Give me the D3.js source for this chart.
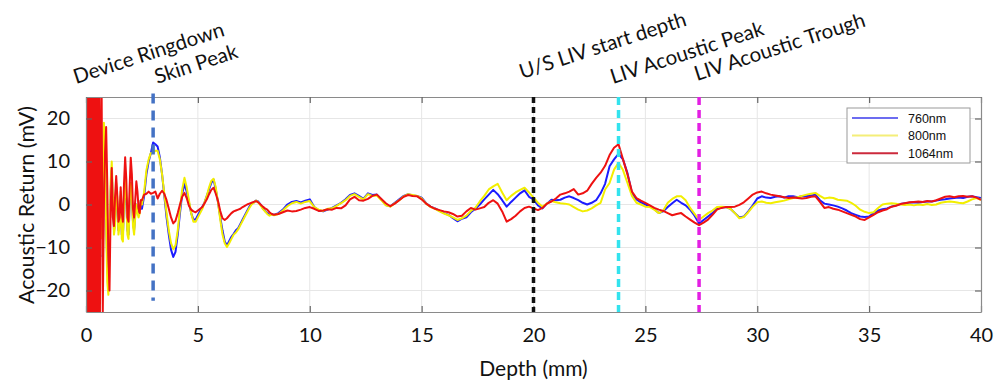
<!DOCTYPE html>
<html><head><meta charset="utf-8">
<script src="https://cdn.jsdelivr.net/npm/d3@7"></script>
<style>body{margin:0;background:#fff;} svg{display:block;}</style>
</head><body>
<svg id="chart" width="995" height="383"></svg>
<script>
// ---------------- data ----------------
const xTicks = [0, 5, 10, 15, 20, 25, 30, 35, 40];
const yTicks = [-20, -10, 0, 10, 20];
const seriesNames = ["760nm", "800nm", "1064nm"];
const markerDepths = [3.0, 20.0, 23.8, 27.4];
const annotationLabels = ["Device Ringdown", "Skin Peak", "U/S LIV start depth", "LIV Acoustic Peak", "LIV Acoustic Trough"];
const annotationDepths = [0.0, 3.0, 20.0, 23.8, 27.4];

// sampling depths (mm) of the traces
const ringDepth = d3.range(0, 33).map(i => +(i * 0.02).toFixed(2));          // 0.00 .. 0.64
const depthA = d3.range(0, 36).map(i => +(0.70 + i * 0.05).toFixed(2));      // 0.70 .. 2.45
const depthB = d3.range(0, 60).map(i => +(2.5 + i * 0.1).toFixed(2));        // 2.5 .. 8.4
const depthC = d3.range(0, 158).map(i => +(8.6 + i * 0.2).toFixed(2));       // 8.6 .. 40.0

// device ringdown (1064nm, saturating)
const ring1064 = [30,-30,30,-30,30,-30,30,-30,30,-30,30,-30,30,-30,30,-30,30,-30,30,-30,30,-30,30,-30,30,-30,30,-30,30,-30,30,-30,0];

const a760 = [-12,-12,5,10,-3,-14,-18,-8,3,8, 1,-6,-4,4,0,-6,-4,2,-7,-7, 0,6,1,-6,-7,0,5,2,-4,-6, -2,0,-1,-2,-1,1];
const a800 = [-8,5,19,12,-5,-18,-21,-10,5,10, 2,-7,-5,5,1,-7,-5,3,-8,-8.6, 0,7,2,-7,-8,0,5,2,-5,-7, -3,0,-2,-3,-2,1];
const a1064 = [25,-25,0,12,18,5,-12,-20,-2,8.5, -3,-5,2,6.6,2,-4,-3,4,-2,-4, 5,11,6,-3,-4,4,10.9,7,-1,-3, 1,5.4,3,-1,-2,1];

const b760 = [-1,2,7,10,12,14.4,14,13.5,11,7,
  2,-3,-7,-10.5,-12.2,-11,-7,-2,2.5,4.8,
  3,0.5,-2,-3.5,-3.5,-2.5,-1.5,-0.5,0.5,2,
  3.5,5,5.8,3.5,0.5,-3,-6,-8.6,-9.5,-8.5,
  -7.5,-6.8,-6,-5.5,-4.5,-3.5,-2.5,-1.5,-0.5,0.2,
  0.5,0.9,0.7,0,-0.9,-1.5,-2,-2.4,-2.2,-2.4];
const b800 = [0,3,8,10.5,12,12,12.5,12.5,10.5,7,
  2.5,-2,-6,-9,-10.4,-9.5,-6,-1,3.5,6.2,
  4,1,-2,-4,-4,-3,-2,-1,0.5,2,
  4,5.5,6,4,0.5,-3.5,-7,-9,-9.9,-9,
  -8,-7,-6.5,-5.8,-4.8,-3.8,-2.8,-1.8,-0.8,0,
  0.4,0.9,0.5,-0.2,-1,-1.6,-2.2,-2.6,-2.3,-2.5];
const b1064 = [1,2.3,2.5,3.0,2.5,2.7,3.0,1.4,2.5,3.2,
  2.5,1,-1,-3,-4.4,-3.8,-2,0,1.8,2.7,
  1.5,-0.3,-1.2,-1.6,-1.8,-1.4,-1,-0.6,0.3,1.2,
  2.4,3.4,3.9,2.5,0.8,-1.5,-3.2,-3.6,-3.2,-2.6,
  -2,-1.6,-1.4,-1.2,-1.0,-0.6,-0.3,0,0.2,0.4,
  0.6,0.8,0.5,0,-0.5,-0.9,-1.2,-1.8,-2.2,-2.4];

const c760 = [-2.0,-1.2,0,0.6,0.8,0.5,0.9,1.2,-0.6,-1.4,
  -1.6,-1.2,-0.8,-0.2,0.4,1.2,2.2,2.6,2.0,1.3,
  2.6,2.2,2.3,1.2,-0.1,-0.4,0.4,1.2,2.0,2.4,
  2.1,2.0,1.6,0.3,-0.5,-0.9,-1.5,-2.0,-2.4,-3.2,
  -3.9,-3.3,-3.0,-1.8,-1.0,0,1.2,2.3,3.4,2.4,
  1.0,-0.5,0.6,1.6,2.6,3.3,1.8,1.2,-0.2,-0.9,
  0.2,1.1,1.0,1.1,1.6,1.9,1.5,1.0,0.4,0,
  0.4,1.0,2.6,4.8,8.9,10.5,11.8,10.5,7.3,2.7,
  1.2,0.5,0,-0.4,-1.1,-2.0,-1.6,-0.6,0.3,1.1,
  0.4,-0.2,-1.2,-2.6,-4.4,-3.6,-2.8,-2.0,-1.0,-0.7,
  -0.6,-1.0,-2.0,-3.0,-2.8,-1.6,-0.2,1.4,1.9,1.6,
  1.5,1.8,1.9,1.6,1.9,1.9,1.7,1.9,1.9,2.1,
  2.3,1.0,0.2,0,-0.2,-0.5,-0.9,-1.4,-2.0,-2.4,
  -2.8,-2.9,-2.8,-2.0,-1.4,-1.1,-0.9,-0.5,-0.2,0.1,
  0.3,0.4,0.5,0.4,0.6,0.7,0.7,0.9,1.1,1.2,
  1.4,1.5,1.6,1.5,1.8,1.9,1.7,1.5];
const c800 = [-2.2,-1.4,-0.4,0.3,0.6,0.2,0.6,0.8,-0.6,-1.2,
  -1.5,-1.0,-0.9,-0.3,0.3,1.0,2.0,2.4,1.8,1.2,
  2.4,2.0,2.1,1.0,-0.2,-0.5,0.3,1.0,1.9,2.4,
  2.2,2.0,1.4,0.2,-0.6,-1.0,-1.6,-2.1,-2.5,-3.0,
  -3.6,-3.2,-2.6,-1.5,-0.8,0.7,2.0,3.5,4.2,4.8,
  2.8,1.0,2.0,2.8,3.4,3.9,2.8,1.6,0.4,-0.5,
  0.2,0.8,0.5,0.3,0.2,0,-0.6,-1.2,-1.6,-1.4,
  -0.9,-0.2,0.4,3.5,5.0,8.1,9.7,8.0,5.0,2.0,
  0.4,0,-0.5,-0.6,-1.2,-2.0,-1.4,0.4,1.3,1.9,
  1.9,1.0,-0.8,-2.2,-3.6,-2.8,-2.0,-1.4,-0.6,-0.5,
  -0.6,-1.0,-2.0,-3.2,-2.9,-1.8,-0.5,0.5,0.7,0.4,
  0.3,0.5,0.7,0.9,1.2,1.5,1.7,2.0,2.3,2.5,
  2.7,2.0,1.4,1.6,1.5,1.1,1.0,0.9,0.4,-0.3,
  -1.2,-1.7,-2.0,-1.8,-0.8,0,0.2,0.3,0.2,0,
  -0.1,0,-0.2,0,-0.1,0.1,-0.1,0,0.4,0.6,
  0.7,0.6,0.4,0.3,0.7,1.2,1.5,1.1];
const c1064 = [-2.2,-1.8,-1.4,-1.6,-1.5,-1.2,-0.8,-0.6,-1.0,-1.5,
  -1.4,-1.1,-1.2,-0.8,-0.9,-0.2,1.2,1.8,1.0,0.9,
  1.3,2.0,2.3,1.3,0.3,-0.4,0.2,1.0,1.8,2.2,
  2.0,1.9,1.2,0.2,-0.5,-1.0,-1.3,-1.6,-1.8,-2.2,
  -2.8,-2.6,-1.6,-0.8,-1.2,-0.9,-0.6,0.4,1.0,0.2,
  -1.6,-4.0,-3.4,-2.6,-1.6,-0.8,-0.5,-0.9,-1.3,-0.8,
  0.2,0.7,1.4,2.3,2.6,3.0,3.6,2.3,2.6,3.2,
  4.8,6.2,7.4,9.0,11.5,13.2,14.0,10.5,7.0,3.0,
  1.5,0.9,0.4,-0.2,-0.8,-1.2,-1.5,-2.0,-2.5,-2.2,
  -2.0,-2.8,-3.5,-4.2,-4.8,-4.2,-3.5,-2.4,-1.2,-0.8,
  -0.6,-0.6,-0.5,-0.1,0.5,1.4,2.3,2.8,3.0,2.6,
  2.3,2.1,1.9,1.7,1.5,1.6,1.5,1.4,1.5,1.8,
  1.9,0.6,-0.8,-0.6,-1.0,-1.2,-1.6,-2.0,-2.4,-2.8,
  -3.4,-3.6,-3.0,-2.4,-1.8,-1.4,-1.1,-0.5,-0.3,0.1,
  0.3,0.5,0.6,0.7,0.6,0.8,0.7,1.0,1.4,1.8,
  1.9,1.7,1.9,2.0,1.8,1.9,1.6,1.1];

// ---------------- build ----------------
const zip = (ds, vs) => ds.map((d, i) => [d, vs[i]]);
const series = [
  { name: seriesNames[0], pts: [].concat(zip(depthA, a760), zip(depthB, b760), zip(depthC, c760)) },
  { name: seriesNames[1], pts: [].concat(zip(depthA, a800), zip(depthB, b800), zip(depthC, c800)) },
  { name: seriesNames[2], pts: [].concat(zip(ringDepth, ring1064), zip(depthA, a1064), zip(depthB, b1064), zip(depthC, c1064)) }
];
const lineColors = ["#1c1cff", "#f2ee00", "#ee1111"];
const legendColors = ["#6c6cf0", "#f4ee78", "#cc2a3c"];
const markerColors = ["#4472c4", "#111111", "#33e3ee", "#e31fe3"];

const svg = d3.select("#chart");
const L = 86, R = 981, T = 97, B = 312;
const x = d3.scaleLinear().domain([0, 40]).range([L, R]);
const y = d3.scaleLinear().domain([-25, 25]).range([B, T]);
const font = "Lato, 'Open Sans', sans-serif";

svg.append("rect").attr("x", L).attr("y", T).attr("width", R - L).attr("height", B - T).attr("fill", "#fff");

// grid
svg.append("g").selectAll("line").data(xTicks.slice(1, -1)).join("line")
  .attr("x1", d => x(d)).attr("x2", d => x(d)).attr("y1", T).attr("y2", B)
  .attr("stroke", "#e6e6e6").attr("stroke-width", 1);
svg.append("g").selectAll("line").data(yTicks).join("line")
  .attr("x1", L).attr("x2", R).attr("y1", d => y(d)).attr("y2", d => y(d))
  .attr("stroke", "#e6e6e6").attr("stroke-width", 1);

// clip
svg.append("clipPath").attr("id", "plotclip").append("rect")
  .attr("x", L).attr("y", T).attr("width", R - L).attr("height", B - T);

const line = d3.line().x(d => x(d[0])).y(d => y(d[1]));
svg.append("g").attr("clip-path", "url(#plotclip)").selectAll("path").data(series).join("path")
  .attr("d", d => line(d.pts)).attr("fill", "none")
  .attr("stroke", (d, i) => lineColors[i]).attr("stroke-width", 2).attr("stroke-linejoin", "round");

// axes
function styleAxis(g) {
  g.select(".domain").attr("stroke", "#8a8a8a").attr("stroke-width", 1.2);
  g.selectAll(".tick line").attr("stroke", "#666").attr("stroke-width", 1.2);
  g.selectAll(".tick text").attr("font-family", font).attr("font-size", 20).attr("fill", "#111");
}
svg.append("g").attr("transform", `translate(0,${B})`)
  .call(d3.axisBottom(x).tickValues(xTicks).tickSize(-6).tickSizeOuter(0).tickPadding(16)).call(styleAxis);
svg.append("g").attr("transform", `translate(0,${T})`)
  .call(d3.axisTop(x).tickValues(xTicks).tickSize(-6).tickSizeOuter(0).tickFormat("")).call(styleAxis);
svg.append("g").attr("transform", `translate(${L},0)`)
  .call(d3.axisLeft(y).tickValues(yTicks).tickSize(-6).tickSizeOuter(0).tickPadding(16)).call(styleAxis);
svg.append("g").attr("transform", `translate(${R},0)`)
  .call(d3.axisRight(y).tickValues(yTicks).tickSize(-6).tickSizeOuter(0).tickFormat("")).call(styleAxis);

// marker lines
const markerSpan = [[25.8, -22.4], [25, -25], [25, -25], [25, -25]];
const markerDash = ["10,7", "6,4", "8,5", "8,5"];
svg.append("g").selectAll("line").data(markerDepths).join("line")
  .attr("x1", d => x(d)).attr("x2", d => x(d))
  .attr("y1", (d, i) => y(markerSpan[i][0])).attr("y2", (d, i) => y(markerSpan[i][1]))
  .attr("stroke", (d, i) => markerColors[i]).attr("stroke-width", 3.5)
  .attr("stroke-dasharray", (d, i) => markerDash[i]);

// legend
const lg = svg.append("g");
lg.append("rect").attr("x", 847).attr("y", 108).attr("width", 123).attr("height", 55)
  .attr("fill", "#fff").attr("stroke", "#9a9a9a").attr("stroke-width", 1);
seriesNames.forEach((n, i) => {
  const yy = 118 + i * 17.6;
  lg.append("line").attr("x1", 852).attr("x2", 898).attr("y1", yy).attr("y2", yy)
    .attr("stroke", legendColors[i]).attr("stroke-width", 2);
  lg.append("text").attr("x", 908).attr("y", yy).attr("dy", "0.36em")
    .attr("font-family", "'Liberation Sans', Arial, sans-serif").attr("font-size", 12.5).attr("fill", "#111").text(n);
});

// axis titles
svg.append("text").attr("x", x(20)).attr("y", 376).attr("text-anchor", "middle")
  .attr("font-family", font).attr("font-size", 21).attr("fill", "#111").text("Depth (mm)");
svg.append("text").attr("transform", "translate(26,205) rotate(-90)").attr("text-anchor", "middle").attr("dy", "0.35em")
  .attr("font-family", font).attr("font-size", 21.5).attr("fill", "#111").text("Acoustic Return (mV)");

// annotations
const annDx = [-10, 4, -11.5, -5.5, -2];
const annY = [84, 84, 79, 84, 81];
svg.append("g").selectAll("text").data(annotationLabels).join("text")
  .attr("transform", (d, i) => `translate(${x(annotationDepths[i]) + annDx[i]},${annY[i]}) rotate(-18)`)
  .attr("font-family", font).attr("font-size", 20.5).attr("fill", "#111").text(d => d);
</script>
</body></html>
